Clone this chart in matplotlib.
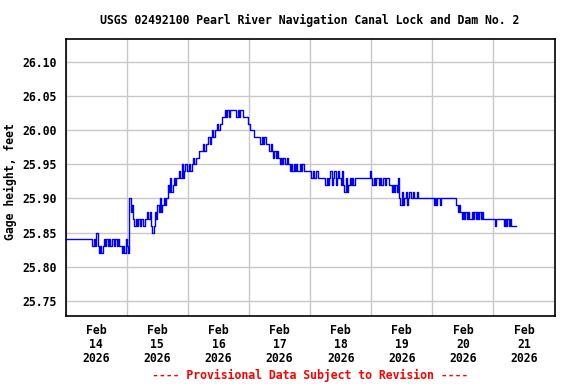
import pandas as pd
import matplotlib
matplotlib.use('Agg')
import matplotlib.pyplot as plt
import matplotlib.dates as mdates

# Gage height, feet, every 30 minutes starting Feb 14 2026 00:00
feb14 = [25.84] * 21 + [
    25.83, 25.84, 25.83, 25.85, 25.83, 25.82, 25.83, 25.82, 25.83, 25.84,
    25.83, 25.84, 25.83, 25.84, 25.83, 25.84, 25.84, 25.83, 25.84, 25.83,
    25.84, 25.83, 25.83, 25.82, 25.83, 25.82, 25.84]
feb15 = [
    25.83, 25.82, 25.90, 25.88, 25.89, 25.87, 25.86, 25.87, 25.86, 25.87,
    25.86, 25.87, 25.87, 25.86, 25.87, 25.87, 25.88, 25.87, 25.88, 25.86,
    25.85, 25.86, 25.88, 25.87, 25.89, 25.88, 25.90, 25.88, 25.89, 25.90,
    25.89, 25.90, 25.92, 25.91, 25.93, 25.91, 25.92, 25.93, 25.92, 25.93,
    25.93, 25.94, 25.93, 25.95, 25.93, 25.94, 25.95, 25.94]
feb16 = [
    25.94, 25.95, 25.94, 25.95, 25.96, 25.95, 25.96, 25.96, 25.96, 25.97,
    25.97, 25.97, 25.98, 25.97, 25.98, 25.98, 25.99, 25.98, 25.99, 26.00,
    25.99, 26.00, 26.00, 26.01, 26.00, 26.01, 26.01, 26.02, 26.02, 26.03,
    26.02, 26.03, 26.02, 26.03, 26.03, 26.03, 26.03, 26.03, 26.02, 26.03,
    26.02, 26.03, 26.03, 26.02, 26.02, 26.02, 26.02, 26.01]
feb17 = [
    26.01, 26.00, 26.00, 26.00, 25.99, 25.99, 25.99, 25.99, 25.99, 25.98,
    25.99, 25.98, 25.99, 25.98, 25.98, 25.98, 25.97, 25.98, 25.97, 25.96,
    25.97, 25.96, 25.97, 25.96, 25.95, 25.96, 25.95, 25.96, 25.95, 25.95,
    25.96, 25.95, 25.94, 25.95, 25.94, 25.95, 25.94, 25.95, 25.94, 25.94,
    25.95, 25.94, 25.95, 25.94, 25.94, 25.94, 25.94, 25.94]
feb18 = [
    25.94, 25.93, 25.94, 25.93, 25.93, 25.94, 25.93, 25.93, 25.93, 25.93,
    25.93, 25.93, 25.92, 25.93, 25.92, 25.93, 25.94, 25.92, 25.93, 25.94,
    25.92, 25.93, 25.94, 25.93, 25.92, 25.94, 25.92, 25.91, 25.93, 25.91,
    25.92, 25.93, 25.92, 25.93, 25.92, 25.93] + [25.93] * 11 + [25.94]
feb19 = [
    25.93, 25.92, 25.93, 25.92, 25.93, 25.93, 25.92, 25.93, 25.92, 25.93,
    25.93, 25.92, 25.93, 25.93, 25.92, 25.92, 25.91, 25.92, 25.91, 25.92,
    25.91, 25.93, 25.90, 25.89, 25.91, 25.89, 25.90, 25.91, 25.89, 25.90,
    25.91, 25.90, 25.90, 25.91, 25.90, 25.90, 25.91, 25.90] + [25.90] * 10
feb20 = [
    25.90, 25.89, 25.90, 25.89, 25.90, 25.90, 25.89, 25.90] + [25.90] * 11 + [
    25.89, 25.88, 25.89, 25.88, 25.87, 25.88, 25.87, 25.88, 25.87, 25.88,
    25.87, 25.87, 25.88, 25.87, 25.88, 25.87, 25.88, 25.87, 25.88, 25.87,
    25.88] + [25.87] * 8
feb21 = [
    25.87, 25.86, 25.87, 25.87, 25.87, 25.87, 25.87, 25.87, 25.86, 25.87,
    25.86, 25.87, 25.86, 25.87, 25.86, 25.86, 25.86, 25.86, 25.86]

yticks = [25.75, 25.80, 25.85, 25.90, 25.95, 26.00, 26.05, 26.10]

values = feb14 + feb15 + feb16 + feb17 + feb18 + feb19 + feb20 + feb21
times = pd.date_range('2026-02-14 00:00', periods=len(values), freq='30min')
gage = pd.Series(values, index=times)

mono = 'DejaVu Sans Mono'
fs = 8.3

fig = plt.figure(figsize=(5.76, 3.84), dpi=100)
ax = fig.add_axes([65.7 / 576, 1 - 316 / 384, (554.5 - 65.7) / 576, (316 - 39.3) / 384])

ax.plot(gage.index, gage.values, color='#0000ff', lw=1, drawstyle='steps-post')

ax.set_xlim(pd.Timestamp('2026-02-14'), pd.Timestamp('2026-02-22'))
ax.set_ylim(25.7274, 26.1338)

# gridlines at midnight, labels at noon
ax.xaxis.set_major_locator(mdates.DayLocator())
ax.xaxis.set_major_formatter(plt.NullFormatter())
ax.xaxis.set_minor_locator(mdates.HourLocator(byhour=[12]))
ax.xaxis.set_minor_formatter(mdates.DateFormatter('%b\n%d\n%Y'))
ax.set_yticks(yticks)
ax.set_yticklabels(['%.2f' % v for v in yticks])

ax.grid(True, which='major', color='#c8c8c8', lw=1)
ax.set_axisbelow(True)
ax.tick_params(which='both', length=0)
ax.tick_params(axis='y', pad=6.5)
ax.tick_params(axis='x', which='minor', pad=6)
for lab in ax.get_yticklabels() + ax.get_xticklabels(minor=True):
    lab.set_fontfamily(mono)
    lab.set_fontweight('bold')
    lab.set_fontsize(fs)
for lab in ax.get_xticklabels(minor=True):
    lab.set_linespacing(1.08)
for s in ax.spines.values():
    s.set_linewidth(1.2)
    s.set_color('black')

fig.text(310 / 576, 1 - 20 / 384, 'USGS 02492100 Pearl River Navigation Canal Lock and Dam No. 2',
         ha='center', va='center', family=mono, weight='bold', fontsize=fs)
fig.text(10 / 576, 1 - 182 / 384, 'Gage height, feet', rotation=90,
         ha='center', va='center', family=mono, weight='bold', fontsize=fs)
fig.text(310 / 576, 1 - 375 / 384, '---- Provisional Data Subject to Revision ----',
         ha='center', va='center', family=mono, weight='bold', fontsize=fs, color='#ff0000')

fig.savefig('out.png', dpi=100)
